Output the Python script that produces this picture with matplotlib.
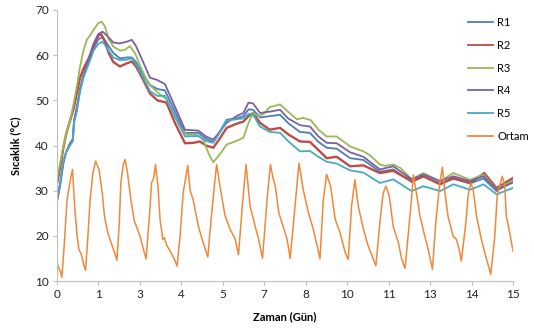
import numpy as np
import matplotlib.pyplot as plt

plt.rcParams['font.family'] = ['Lato', 'DejaVu Sans']

# R1 (mavi)
r1_day = [0, 0.1, 0.21, 0.3, 0.43, 0.52, 0.56, 0.65, 0.76, 0.87, 0.98, 1.1, 1.2, 1.36, 1.5, 1.65,
          1.85, 2.07, 2.3, 2.46, 2.6, 2.8, 3.06, 3.3, 3.55, 3.88, 4.21, 4.65, 4.9, 5.14, 5.35, 5.58,
          5.9, 6.13, 6.3, 6.45, 6.68, 7.0, 7.34, 7.6, 7.99, 8.32, 8.6, 8.87, 9.2, 9.64, 10.08,
          10.62, 11.06, 11.67, 12.05, 12.6, 13.04, 13.59, 14.03, 14.46, 15.0]
r1_val = [28, 31.5, 36.5, 38.5, 40.5, 41.5, 45.5, 48, 52.5, 55.5, 57.5, 59.5, 61.5, 63.5, 64, 62.5,
          60.5, 59.3, 59.5, 59.5, 58.5, 56, 53.4, 52.5, 52.2, 47.5, 42.8, 42.8, 41.5, 40.8, 43, 45.7,
          46, 46.5, 48, 47.9, 46.2, 46.5, 46.8, 45, 43, 42.8, 40.8, 39.5, 39.3, 37.2, 36.8,
          34.2, 34.7, 31.9, 33.1, 31.6, 32.6, 31.6, 32.7, 29.9, 32.1]

# R2 (kirmizi)
r2_day = [0, 0.1, 0.21, 0.3, 0.43, 0.54, 0.65, 0.76, 0.87, 0.98, 1.1, 1.2, 1.36, 1.45, 1.58, 1.7,
          1.85, 2.07, 2.3, 2.46, 2.6, 2.8, 3.06, 3.3, 3.6, 3.88, 4.21, 4.5, 4.7, 4.9, 5.14, 5.35,
          5.58, 5.9, 6.13, 6.3, 6.45, 6.68, 7.0, 7.34, 7.6, 7.99, 8.32, 8.6, 8.87, 9.2, 9.64,
          10.08, 10.62, 11.06, 11.67, 12.05, 12.6, 13.04, 13.59, 14.05, 14.46, 15.0]
r2_val = [31.5, 35, 39.5, 42.5, 45.5, 48, 51.5, 55, 57, 58.5, 60, 62, 64.3, 64.7, 63, 60.5,
          58.5, 57.5, 58.2, 58.6, 57.5, 55, 51.5, 50, 49.5, 45, 40.5, 40.6, 40.9, 40, 39.5, 41.5,
          43.9, 44.8, 45.3, 46.5, 47.2, 45, 43.5, 43.9, 42.5, 40.9, 40.8, 39, 37.2, 37.5, 35.4,
          35.6, 33.9, 34.4, 32.1, 33.2, 31.4, 32.8, 31.7, 33.9, 30.6, 32.8]

# R3 (yesil)
r3_day = [0, 0.1, 0.21, 0.3, 0.43, 0.54, 0.65, 0.76, 0.87, 0.98, 1.1, 1.2, 1.36, 1.47, 1.58, 1.69,
          1.85, 2.07, 2.24, 2.4, 2.57, 2.79, 3.0, 3.22, 3.44, 3.6, 3.82, 4.04, 4.26, 4.59, 4.81,
          5.0, 5.14, 5.35, 5.58, 5.9, 6.13, 6.3, 6.45, 6.6, 6.8, 7.0, 7.34, 7.6, 7.89, 8.1, 8.35,
          8.6, 8.87, 9.2, 9.4, 9.64, 10.08, 10.3, 10.62, 10.8, 11.06, 11.3, 11.67, 12.05, 12.6,
          13.04, 13.59, 14.03, 14.46, 15.0]
r3_val = [32.5, 36, 39.8, 42.5, 45.5, 49, 53, 57.5, 61, 63.4, 64.5, 65.6, 67.1, 67.4, 66.3, 63.7,
          61.9, 61, 61.2, 62, 60.4, 56.8, 53.8, 52.3, 51, 50.3, 47.2, 44.2, 42.4, 42.4, 41.3,
          38, 36.3, 38, 40.2, 41, 41.7, 45, 47.2, 46.5, 47, 48.5, 49.1, 47.5, 45.8, 46.1, 45.6,
          43.5, 42, 42, 41, 39.8, 38.7, 37.8, 35.8, 35.5, 35.8, 35, 32.5, 33.9, 32.1,
          33.9, 32.4, 33.6, 30.2, 32.3]

# R4 (mor)
r4_day = [0, 0.1, 0.21, 0.3, 0.43, 0.52, 0.56, 0.65, 0.76, 0.87, 0.98, 1.1, 1.2, 1.36, 1.5, 1.65,
          1.85, 2.07, 2.3, 2.46, 2.6, 2.8, 3.06, 3.3, 3.55, 3.88, 4.21, 4.65, 4.9, 5.14, 5.35, 5.58,
          5.9, 6.13, 6.3, 6.45, 6.68, 7.0, 7.34, 7.6, 7.99, 8.32, 8.6, 8.87, 9.2, 9.64, 10.08,
          10.62, 11.06, 11.67, 12.05, 12.6, 13.04, 13.59, 14.03, 14.46, 15.0]
r4_val = [27.5, 31, 36, 38.5, 40.5, 41, 45.5, 48.5, 52.5, 55.5, 58, 60.5, 62.5, 64.7, 65.2, 64.3,
          62.8, 62.6, 63, 63.4, 62, 59, 55, 54.5, 53.6, 48.6, 43.5, 43.3, 42, 41.3, 43, 45,
          46.5, 47.2, 49.5, 49.3, 47.2, 47.5, 47.9, 46, 44.5, 44.2, 42, 40.6, 40.5, 38.5, 37.5,
          34.7, 35.4, 32.5, 33.6, 32.1, 33.2, 32.1, 33.2, 30.2, 31.8]

# R5 (turkuaz)
r5_day = r4_day
r5_val = [28.5, 31.5, 36.5, 38.5, 40, 41, 45, 47.5, 52, 55, 57, 59, 61, 62.5, 63, 61.5,
          59.5, 58.9, 59, 59.3, 58, 55.5, 52, 51, 51, 46.5, 42, 42.1, 41, 40.6, 42.8, 45.5,
          45.8, 46, 47, 46.8, 44.2, 43, 42.8, 41, 38.7, 38.8, 37.5, 36.4, 36, 34.5, 34,
          31.7, 32.5, 29.9, 31, 29.9, 31.4, 30.2, 31.4, 29.2, 30.6]

# Ortam
ortam_day = [0, 0.05, 0.11, 0.16, 0.25, 0.33, 0.42, 0.51, 0.58, 0.66, 0.72, 0.8, 0.89, 0.94,
             1.01, 1.09, 1.18, 1.27, 1.38, 1.49, 1.56, 1.67, 1.78, 1.89, 1.97,
             2.05, 2.1, 2.18, 2.24, 2.32, 2.43, 2.54, 2.65, 2.76, 2.87, 2.93,
             3.04, 3.11, 3.18, 3.24, 3.32, 3.39, 3.48, 3.53, 3.61, 3.75, 3.86, 3.95,
             4.05, 4.15, 4.3, 4.38, 4.48, 4.65, 4.81, 4.96,
             5.09, 5.18, 5.25, 5.36, 5.53, 5.69, 5.86, 5.97,
             6.1, 6.22, 6.35, 6.52, 6.63, 6.76,
             6.91, 7.02, 7.1, 7.18, 7.3, 7.44, 7.57, 7.67,
             7.83, 7.96, 8.1, 8.27, 8.43, 8.56, 8.65,
             8.76, 8.87, 9.0, 9.15, 9.31, 9.48, 9.58,
             9.69, 9.8, 9.91, 10.08, 10.24, 10.49,
             10.62, 10.73, 10.82, 10.93, 11.06, 11.23, 11.34, 11.45,
             11.59, 11.67, 11.72, 11.83, 11.94, 12.07, 12.21, 12.35,
             12.46, 12.59, 12.68, 12.75, 12.86, 13.03, 13.14, 13.25, 13.3,
             13.45, 13.52, 13.61, 13.69, 13.8, 13.96, 14.13, 14.27,
             14.4, 14.48, 14.56, 14.65, 14.73, 14.78, 14.89, 15.0]
ortam_val = [14, 13, 12.2, 10.8, 19.2, 28, 31.7, 34.7, 26.6, 20, 17, 15.9, 13.3, 12.4,
             19.2, 28, 33.9, 36.5, 34.7, 29.5, 24.4, 20.7, 18.5, 16.3, 14.6,
             22.9, 31.7, 35.8, 36.9, 33.9, 28, 23.3, 21.5, 19.2, 16.3, 14.9,
             24.4, 31.7, 32.8, 35.8, 31, 23.6, 19.2, 19.6, 17.9, 16.3, 14.8, 13.3,
             20, 29.5, 35.6, 30, 28, 22.1, 18.5, 15.3,
             25.1, 31.3, 35.8, 31, 24.4, 21.5, 19.3, 15.8,
             27, 35.8, 26.6, 22.1, 19.3, 15,
             28, 35.8, 33, 31, 25, 22.1, 19.2, 15,
             26.6, 36.1, 30.2, 25.1, 21.5, 17.7, 14.9,
             28, 33.6, 31, 23.7, 20.7, 16.3, 14.8,
             26.6, 32.4, 26.6, 21.5, 17.7, 13.4,
             22.9, 29.5, 31, 28.8, 22.1, 18.5, 14.8, 12.8,
             22.9, 28.8, 33.5, 29.2, 24.4, 20.7, 17, 12.6,
             22.9, 31.7, 35.2, 30.2, 24.4, 19.9, 19.2, 16.3, 14.4,
             22.9, 28.8, 31.7, 30.2, 24.4, 19.2, 14.8, 11.5,
             19.9, 28.8, 31, 33.2, 31, 24.4, 20.7, 16.6]

tick_labels = ['0', '1', '3', '4', '5', '7', '8', '10', '11', '13', '14', '15']

fig = plt.figure(figsize=(5.34, 3.31), dpi=100)
ax = fig.add_axes([57/534, 1 - 281/331, 456/534, 271/331])

ax.plot(r1_day, r1_val, color='#4A7EBB', lw=1.3, label='R1')
ax.plot(r2_day, r2_val, color='#BE4B48', lw=1.7, label='R2')
ax.plot(r3_day, r3_val, color='#98B954', lw=1.3, label='R3')
ax.plot(r4_day, r4_val, color='#7D60A0', lw=1.3, label='R4')
ax.plot(r5_day, r5_val, color='#46AAC5', lw=1.3, label='R5')
ax.plot(ortam_day, ortam_val, color='#F0883A', lw=1.1, label='Ortam')

ax.set_xlim(0, 15)
ax.set_ylim(10, 70)
ax.set_yticks(range(10, 71, 10))
ax.set_xticks(np.linspace(0, 15, 12))
ax.set_xticklabels(tick_labels)

for s in ['top', 'right']:
    ax.spines[s].set_visible(False)
for s in ['left', 'bottom']:
    ax.spines[s].set_color('#BFBFBF')
    ax.spines[s].set_linewidth(0.8)
ax.tick_params(axis='both', direction='out', length=3, width=0.8, color='#BFBFBF',
               labelsize=8.5, labelcolor='#222222', pad=3)

ax.set_ylabel('Sıcaklık (°C)', fontsize=8, fontweight='bold', labelpad=10)
ax.set_xlabel('Zaman (Gün)', fontsize=8, fontweight='bold', labelpad=8)

leg = ax.legend(loc='upper left', bbox_to_anchor=(0.88, 1.01), frameon=False, fontsize=8,
                handlelength=2.2, labelspacing=1.05, handletextpad=0.4)
for h in leg.get_lines():
    h.set_linewidth(1.3)

fig.savefig('out.png', dpi=100)
